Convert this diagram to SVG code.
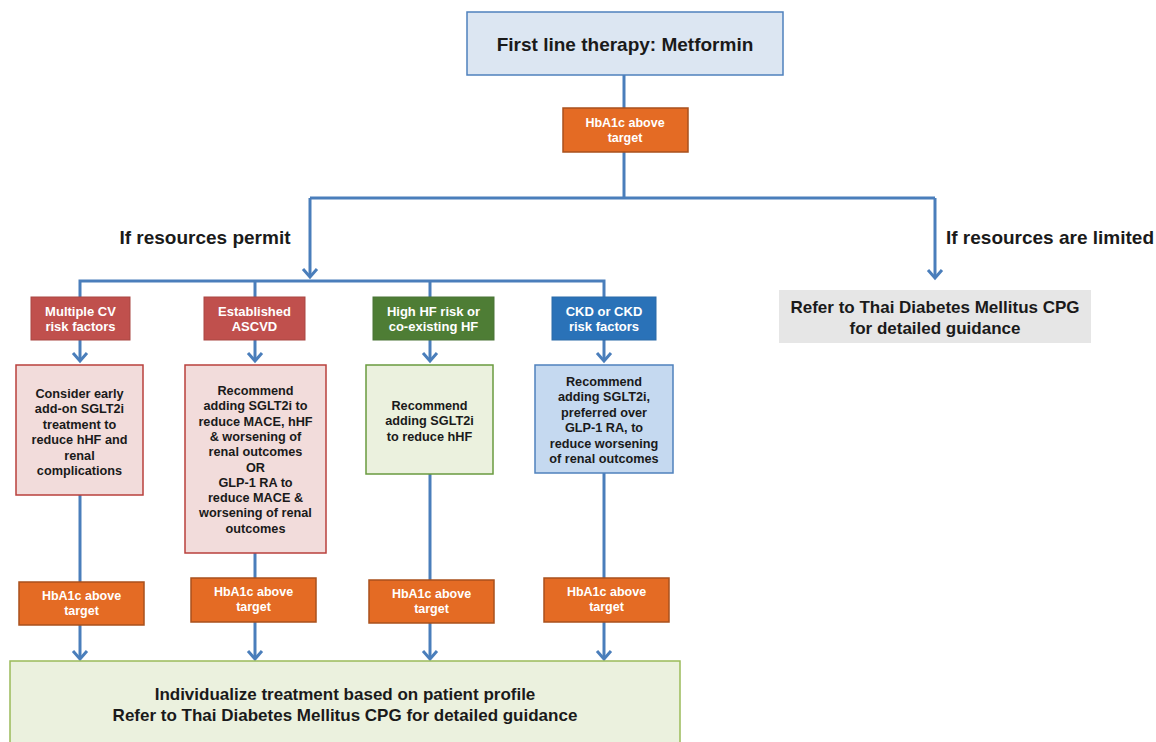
<svg xmlns="http://www.w3.org/2000/svg" width="1156" height="742" viewBox="0 0 1156 742">
<style>
.t{font-family:"Liberation Sans",Arial,sans-serif;font-weight:bold;text-anchor:middle}
.w{fill:#ffffff}
.k{fill:#1a1a1a}
.c{stroke:#4a7ebb;stroke-width:3;fill:none}
.orange{fill:#e46b24;stroke:#a9501c;stroke-width:1.5}
.red{fill:#c0504d;stroke:#a94643;stroke-width:1}
.green{fill:#4e7d35;stroke:#4a7536;stroke-width:1}
.blue{fill:#2a72b8;stroke:#2a6aa8;stroke-width:1}
.pink{fill:#f2dcdb;stroke:#b9403d;stroke-width:1.5}
.lgreen{fill:#ebf1de;stroke:#6a9a3f;stroke-width:1.5}
.lblue{fill:#c5d9f0;stroke:#4f81bd;stroke-width:1.5}
</style>
<defs>
<marker id="arr" markerUnits="userSpaceOnUse" markerWidth="24" markerHeight="24" viewBox="-12 -12 24 24" refX="0" refY="0" orient="auto" overflow="visible">
<path d="M-8,-7 L0,0 L-8,7" fill="none" stroke="#4a7ebb" stroke-width="3"/>
</marker>
</defs>
<rect width="1156" height="742" fill="#ffffff"/>

<g id="connectors">
<path class="c" d="M624,75 V108"/>
<path class="c" d="M624,152 V198"/>
<path class="c" d="M310,198 H935"/>
<path class="c" d="M310,198 V277" marker-end="url(#arr)"/>
<path class="c" d="M935,198 V278" marker-end="url(#arr)"/>
<path class="c" d="M80,297 V281 H604 V297"/>
<path class="c" d="M255,281 V297"/>
<path class="c" d="M430,281 V297"/>
<path class="c" d="M80,340 V361" marker-end="url(#arr)"/>
<path class="c" d="M255,340 V361" marker-end="url(#arr)"/>
<path class="c" d="M430,340 V361" marker-end="url(#arr)"/>
<path class="c" d="M604,340 V361" marker-end="url(#arr)"/>
<path class="c" d="M80,495 V582"/>
<path class="c" d="M255,553 V578"/>
<path class="c" d="M430,474 V580"/>
<path class="c" d="M604,473 V578"/>
<path class="c" d="M80,625 V659" marker-end="url(#arr)"/>
<path class="c" d="M255,622 V659" marker-end="url(#arr)"/>
<path class="c" d="M430,623 V659" marker-end="url(#arr)"/>
<path class="c" d="M604,622 V659" marker-end="url(#arr)"/>
</g>

<g id="first-line">
<rect x="467" y="12" width="316" height="63" fill="#dce6f2" stroke="#4f81bd" stroke-width="1.5"/>
<text class="t k" x="625" y="51" font-size="19">First line therapy: Metformin</text>
</g>

<g id="hba1c-top">
<rect class="orange" x="563" y="108" width="125" height="44"/>
<text class="t w" font-size="12.5"><tspan x="625" y="127">HbA1c above</tspan><tspan x="625" y="142">target</tspan></text>
</g>

<g id="label-permit">
<text class="t k" x="205" y="244" font-size="19">If resources permit</text>
</g>
<g id="label-limited">
<text class="t k" x="1050" y="244" font-size="19">If resources are limited</text>
</g>

<g id="refer-limited">
<rect x="779" y="290" width="312" height="53" fill="#e6e6e6"/>
<text class="t k" font-size="17"><tspan x="935" y="313">Refer to Thai Diabetes Mellitus CPG</tspan><tspan x="935" y="334">for detailed guidance</tspan></text>
</g>

<g id="cat-cv">
<rect class="red" x="31" y="297" width="99" height="43"/>
<text class="t w" font-size="13"><tspan x="80.5" y="316">Multiple CV</tspan><tspan x="80.5" y="331">risk factors</tspan></text>
</g>
<g id="cat-ascvd">
<rect class="red" x="204" y="297" width="101" height="43"/>
<text class="t w" font-size="13"><tspan x="254.5" y="316">Established</tspan><tspan x="254.5" y="331">ASCVD</tspan></text>
</g>
<g id="cat-hf">
<rect class="green" x="373" y="297" width="121" height="43"/>
<text class="t w" font-size="13"><tspan x="433.5" y="316">High HF risk or</tspan><tspan x="433.5" y="331">co-existing HF</tspan></text>
</g>
<g id="cat-ckd">
<rect class="blue" x="552" y="297" width="104" height="43"/>
<text class="t w" font-size="13"><tspan x="604" y="316">CKD or CKD</tspan><tspan x="604" y="331">risk factors</tspan></text>
</g>

<g id="rec-cv">
<rect class="pink" x="16" y="365" width="127" height="130"/>
<text class="t k" font-size="12.7"><tspan x="79.5" y="398">Consider early</tspan><tspan x="79.5" y="413.4">add-on SGLT2i</tspan><tspan x="79.5" y="428.8">treatment to</tspan><tspan x="79.5" y="444.2">reduce hHF and</tspan><tspan x="79.5" y="459.6">renal</tspan><tspan x="79.5" y="475">complications</tspan></text>
</g>
<g id="rec-ascvd">
<rect class="pink" x="185" y="365" width="141" height="188"/>
<text class="t k" font-size="12.7"><tspan x="255.5" y="395">Recommend</tspan><tspan x="255.5" y="410.3">adding SGLT2i to</tspan><tspan x="255.5" y="425.6">reduce MACE, hHF</tspan><tspan x="255.5" y="440.9">&amp; worsening of</tspan><tspan x="255.5" y="456.2">renal outcomes</tspan><tspan x="255.5" y="471.5">OR</tspan><tspan x="255.5" y="486.8">GLP-1 RA to</tspan><tspan x="255.5" y="502.1">reduce MACE &amp;</tspan><tspan x="255.5" y="517.4">worsening of renal</tspan><tspan x="255.5" y="532.7">outcomes</tspan></text>
</g>
<g id="rec-hf">
<rect class="lgreen" x="366" y="365" width="127" height="109"/>
<text class="t k" font-size="12.7"><tspan x="429.5" y="410">Recommend</tspan><tspan x="429.5" y="425.3">adding SGLT2i</tspan><tspan x="429.5" y="440.6">to reduce hHF</tspan></text>
</g>
<g id="rec-ckd">
<rect class="lblue" x="535" y="365" width="138" height="108"/>
<text class="t k" font-size="12.7"><tspan x="604" y="386">Recommend</tspan><tspan x="604" y="401.4">adding SGLT2i,</tspan><tspan x="604" y="416.8">preferred over</tspan><tspan x="604" y="432.2">GLP-1 RA, to</tspan><tspan x="604" y="447.6">reduce worsening</tspan><tspan x="604" y="463">of renal outcomes</tspan></text>
</g>

<g id="hba1c-1">
<rect class="orange" x="19" y="582" width="125" height="43"/>
<text class="t w" font-size="12.5"><tspan x="81.5" y="600">HbA1c above</tspan><tspan x="81.5" y="615">target</tspan></text>
</g>
<g id="hba1c-2">
<rect class="orange" x="191" y="578" width="125" height="44"/>
<text class="t w" font-size="12.5"><tspan x="253.5" y="596">HbA1c above</tspan><tspan x="253.5" y="611">target</tspan></text>
</g>
<g id="hba1c-3">
<rect class="orange" x="369" y="580" width="125" height="43"/>
<text class="t w" font-size="12.5"><tspan x="431.5" y="598">HbA1c above</tspan><tspan x="431.5" y="613">target</tspan></text>
</g>
<g id="hba1c-4">
<rect class="orange" x="544" y="578" width="125" height="44"/>
<text class="t w" font-size="12.5"><tspan x="606.5" y="596">HbA1c above</tspan><tspan x="606.5" y="611">target</tspan></text>
</g>

<g id="individualize">
<rect x="10" y="661" width="670" height="90" fill="#ebf1de" stroke="#9bbb59" stroke-width="1.5"/>
<text class="t k" font-size="17"><tspan x="345" y="700">Individualize treatment based on patient profile</tspan><tspan x="345" y="721">Refer to Thai Diabetes Mellitus CPG for detailed guidance</tspan></text>
</g>
</svg>
